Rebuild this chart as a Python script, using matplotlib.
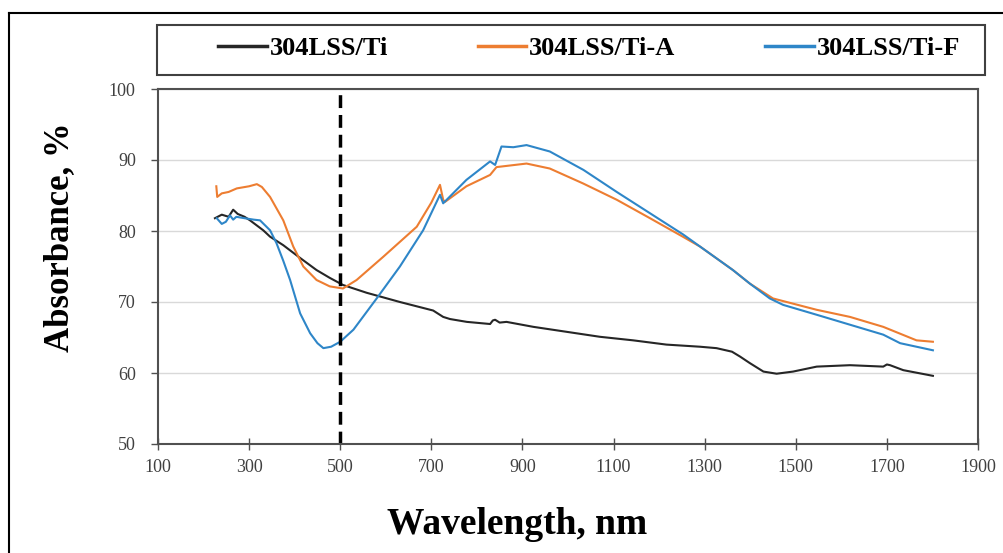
import matplotlib
matplotlib.use("Agg")
from matplotlib import pyplot as plt
from matplotlib.lines import Line2D
from matplotlib.patches import Rectangle

# 304LSS/Ti
wl_ti = [225, 240, 255, 265, 275, 290, 302, 331, 346, 375, 412, 448, 477, 506, 558,
         631, 704, 726, 741, 778, 829, 835, 840, 850, 865, 924, 997, 1070, 1143, 1216,
         1290, 1326, 1360, 1378, 1399, 1429, 1458, 1494, 1546, 1619, 1692, 1700, 1707,
         1736, 1801]
ab_ti = [81.8, 82.3, 82.0, 83.0, 82.4, 82.0, 81.5, 80.1, 79.2, 78.0, 76.2, 74.5, 73.4,
         72.4, 71.3, 70.0, 68.8, 67.9, 67.6, 67.2, 66.9, 67.4, 67.5, 67.1, 67.2, 66.5,
         65.8, 65.1, 64.6, 64.0, 63.7, 63.5, 63.0, 62.3, 61.4, 60.2, 59.9, 60.2, 60.9,
         61.1, 60.9, 61.2, 61.1, 60.4, 59.6]

# 304LSS/Ti-A
wl_a = [228, 230, 240, 255, 273, 300, 317, 328, 346, 375, 397, 419, 448, 477, 506, 536,
        595, 668, 700, 719, 726, 730, 777, 829, 843, 909, 960, 1033, 1107, 1180, 1252,
        1290, 1362, 1399, 1450, 1546, 1619, 1692, 1765, 1801]
ab_a = [86.3, 84.8, 85.3, 85.5, 86.0, 86.3, 86.6, 86.2, 84.8, 81.5, 77.8, 75.0, 73.1,
        72.2, 71.9, 73.1, 76.4, 80.6, 84.0, 86.5, 84.4, 84.1, 86.3, 87.9, 89.0, 89.5,
        88.8, 86.7, 84.4, 81.8, 79.2, 77.8, 74.5, 72.6, 70.5, 68.9, 67.9, 66.5, 64.6,
        64.4]

# 304LSS/Ti-F
wl_f = [229, 240, 249, 258, 265, 272, 290, 310, 324, 346, 360, 375, 390, 412, 434, 450,
        463, 480, 500, 529, 580, 631, 682, 719, 726, 777, 829, 840, 854, 880, 909, 960,
        1034, 1107, 1180, 1253, 1362, 1399, 1443, 1472, 1546, 1619, 1692, 1729, 1801]
ab_f = [81.8, 81.0, 81.3, 82.2, 81.6, 82.0, 81.8, 81.6, 81.5, 80.1, 78.3, 75.8, 73.1,
        68.4, 65.6, 64.2, 63.5, 63.7, 64.4, 66.1, 70.5, 75.0, 80.1, 85.1, 83.9, 87.2,
        89.8, 89.3, 91.9, 91.8, 92.1, 91.2, 88.6, 85.5, 82.5, 79.5, 74.5, 72.6, 70.5,
        69.6, 68.2, 66.8, 65.4, 64.2, 63.2]

labels = ['304LSS/Ti', '304LSS/Ti-A', '304LSS/Ti-F']
colors = ['#262626', '#ED7D31', '#2E86C8']
x_ticks = [100, 300, 500, 700, 900, 1100, 1300, 1500, 1700, 1900]
y_ticks = [50, 60, 70, 80, 90, 100]
marker_wl = 500

plt.rcParams['font.family'] = ['Liberation Serif', 'DejaVu Serif']

fig = plt.figure(figsize=(10.04, 5.53), dpi=100)
ax = fig.add_axes([158 / 1004, 1 - 444 / 553, (978 - 158) / 1004, (444 - 89) / 553])

ax.plot(wl_ti, ab_ti, color=colors[0], lw=1.5, label=labels[0])
ax.plot(wl_a, ab_a, color=colors[1], lw=1.5, label=labels[1])
ax.plot(wl_f, ab_f, color=colors[2], lw=1.5, label=labels[2])
ax.axvline(marker_wl, color='black', lw=2.5, ls=(0, (3.7, 2)))

ax.set_xlim(100, 1900)
ax.set_ylim(50, 100)
ax.set_xticks(x_ticks)
ax.set_yticks(y_ticks)
ax.grid(axis='y', color='#d9d9d9', lw=1)
ax.set_axisbelow(True)
for s in ax.spines.values():
    s.set_color('#505050')
    s.set_linewidth(1.5)
ax.tick_params(axis='x', direction='inout', length=8, width=1, colors='#505050',
               labelcolor='#404040', labelsize=13, pad=7)
ax.tick_params(axis='y', direction='out', length=5, width=1, colors='#505050',
               labelcolor='#404040', labelsize=13, pad=11)

fig.text(517 / 1004, 1 - 524 / 553, 'Wavelength, nm', ha='center', va='center',
         fontsize=27, fontweight='bold')
fig.text(60 / 1004, 1 - 237 / 553, 'Absorbance, %', ha='center', va='center',
         fontsize=25, fontweight='bold', rotation=90)

# legend box across the top
fig.add_artist(Rectangle((157 / 1004, 1 - 75 / 553), (985 - 157) / 1004, 50 / 553,
                         transform=fig.transFigure, fill=False, ec='#404040', lw=1.5))
handles = [Line2D([], [], color=c, lw=2.5) for c in colors]
fig.legend(handles, labels, loc='center', bbox_to_anchor=(589 / 1004, 1 - 48 / 553),
           ncol=3, frameon=False, handlelength=1.85, handletextpad=0.1,
           columnspacing=3.4, prop={'weight': 'bold', 'size': 19})

# outer frame
fig.add_artist(Line2D([9 / 1004, 9 / 1004], [0, 1 - 13 / 553], transform=fig.transFigure,
                      color='black', lw=1.5))
fig.add_artist(Line2D([9 / 1004, 1], [1 - 13 / 553, 1 - 13 / 553], transform=fig.transFigure,
                      color='black', lw=1.5))

fig.savefig('out.png', dpi=100)
